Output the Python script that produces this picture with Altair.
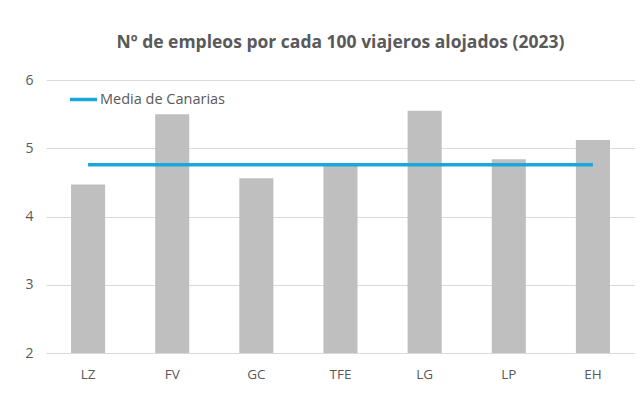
import altair as alt
import pandas as pd

categories = ["LZ", "FV", "GC", "TFE", "LG", "LP", "EH"]
values = [4.47, 5.50, 4.56, 4.77, 5.55, 4.84, 5.12]
media_canarias = 4.76
series_name = "Media de Canarias"

df = pd.DataFrame({"isla": categories, "valor": values})
df_line = pd.DataFrame({"isla": categories, "media": [media_canarias] * len(categories),
                        "serie": [series_name] * len(categories)})

FONT = "Open Sans"
TXT = "#595959"

x_enc = alt.X("isla:N", sort=categories, title=None,
              scale=alt.Scale(paddingInner=0.595, paddingOuter=0.2975),
              axis=alt.Axis(labelAngle=0, ticks=False, domain=True, domainColor="#d9d9d9",
                            grid=False, labelPadding=14, labelFontSize=13.5,
                            labelColor=TXT, labelFont=FONT))

bars = alt.Chart(df).mark_bar(color="#bfbfbf", clip=True).encode(
    x=x_enc,
    y=alt.Y("valor:Q", title=None,
            scale=alt.Scale(domain=[2, 6], nice=False, zero=False),
            axis=alt.Axis(values=[2, 3, 4, 5, 6], format="d", ticks=False, domain=False,
                          grid=True, gridColor="#d9d9d9", labelPadding=13, labelFontSize=14,
                          labelColor=TXT, labelFont=FONT)),
)

line = alt.Chart(df_line).mark_line(strokeWidth=3.5).encode(
    x=alt.X("isla:N", sort=categories),
    y=alt.Y("media:Q"),
    color=alt.Color("serie:N", title=None,
                    scale=alt.Scale(domain=[series_name], range=["#1aa7dc"]),
                    legend=alt.Legend(orient="none", legendX=22, legendY=4,
                                      symbolType="stroke", symbolSize=729,
                                      symbolStrokeWidth=3.5, labelOffset=1,
                                      labelFontSize=14.5, labelColor=TXT, labelFont=FONT,
                                      padding=0)),
)

chart = alt.layer(bars, line).properties(
    width=589, height=273,
    title=alt.Title("Nº de empleos por cada 100 viajeros alojados (2023)",
                    font=FONT, fontSize=17.5, fontWeight="bold", color=TXT,
                    anchor="middle", offset=22),
    autosize=alt.AutoSizeParams(type="none"),
    padding={"left": 38, "top": 72, "right": 0, "bottom": 40},
).configure_view(stroke=None)

chart.save("out.html", embed_options={"renderer": "svg", "actions": False})
